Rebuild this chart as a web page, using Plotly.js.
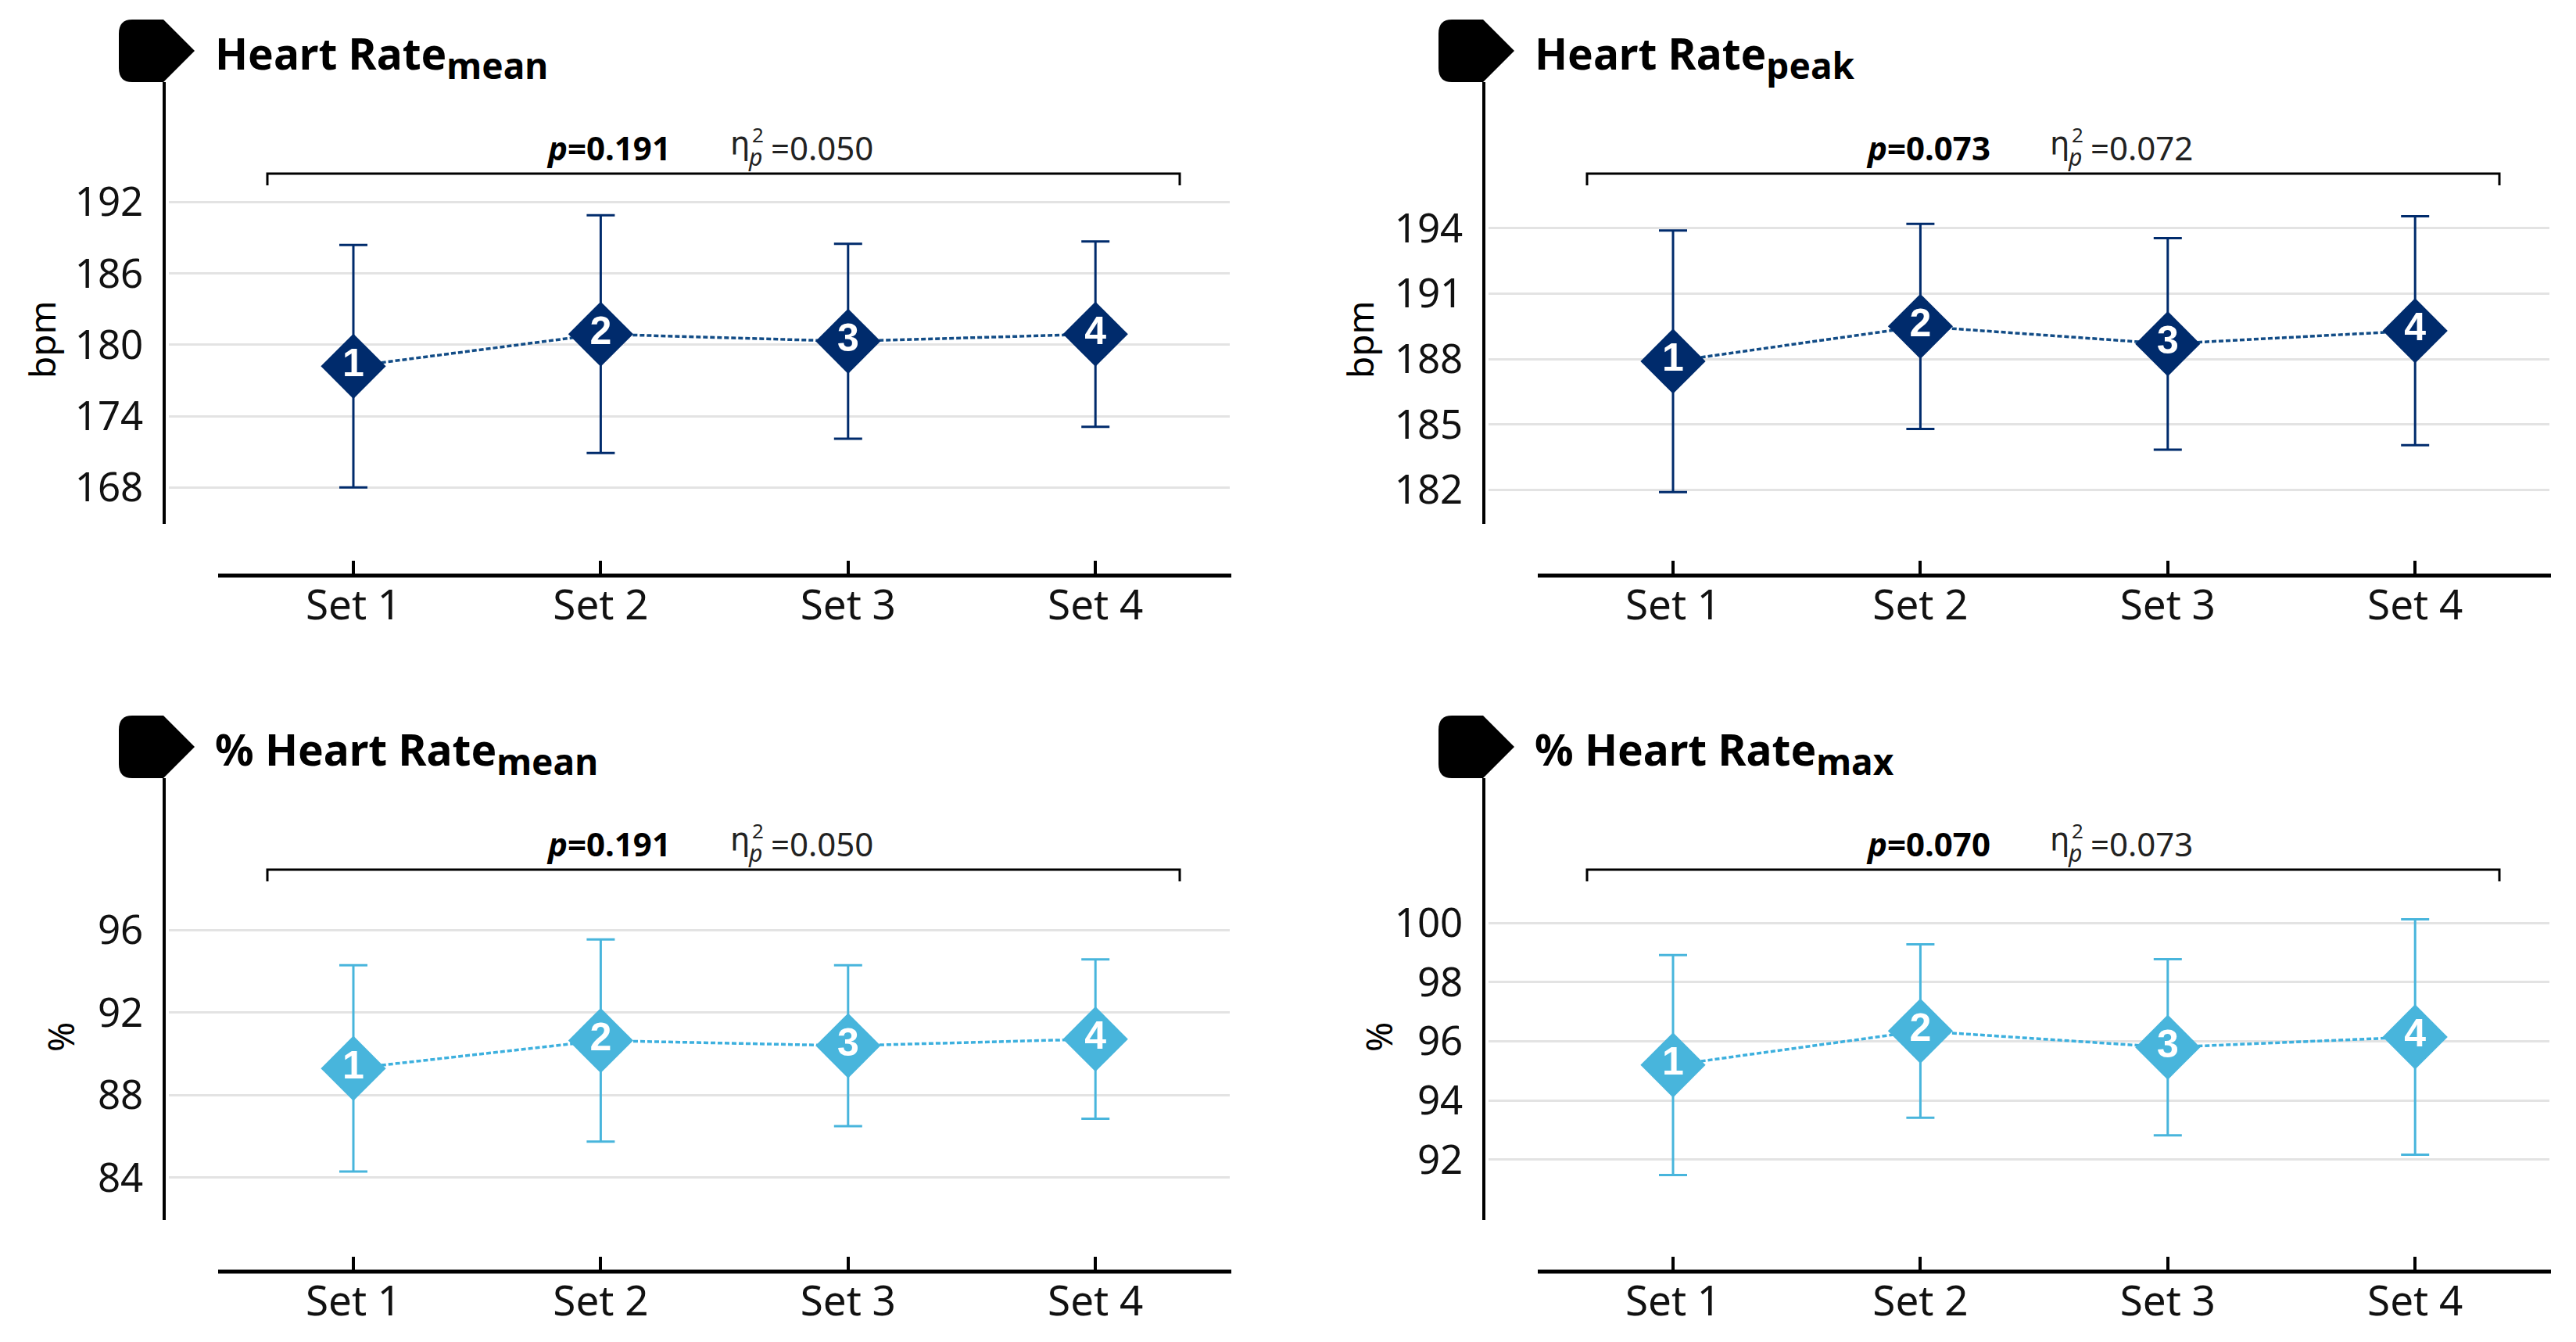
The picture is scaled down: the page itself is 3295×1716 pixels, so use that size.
<!DOCTYPE html>
<html><head><meta charset="utf-8">
<script src="https://cdn.plot.ly/plotly-3.0.1.min.js"></script>
<style>html,body{margin:0;padding:0;background:#fff}</style>
</head><body><div id="chart" style="width:3295px;height:1716px"></div>
<script>
// ---------------- data ----------------
const categories = ['Set 1', 'Set 2', 'Set 3', 'Set 4'];
const markerLabels = ['1', '2', '3', '4'];

const hrMeanValues = [178.2, 180.9, 180.3, 180.9];
const hrMeanSD = [10.2, 10.0, 8.2, 7.8];

const hrPeakValues = [187.9, 189.5, 188.7, 189.3];
const hrPeakSD = [6.0, 4.7, 4.85, 5.25];

const pctHrMeanValues = [89.3, 90.65, 90.4, 90.72];
const pctHrMeanSD = [5.0, 4.9, 3.9, 3.86];

const pctHrMaxValues = [95.2, 96.35, 95.8, 96.15];
const pctHrMaxSD = [3.72, 2.93, 2.98, 3.98];

const hrMeanTicks = [168, 174, 180, 186, 192];
const hrPeakTicks = [182, 185, 188, 191, 194];
const pctHrMeanTicks = [84, 88, 92, 96];
const pctHrMaxTicks = [92, 94, 96, 98, 100];

const panelTitles = ['Heart Rate', 'Heart Rate', '% Heart Rate', '% Heart Rate'];
const panelSubs = ['mean', 'peak', 'mean', 'max'];
const unitLabels = ['bpm', 'bpm', '%', '%'];
const pValues = ['0.191', '0.073', '0.191', '0.070'];
const etaValues = ['0.050', '0.072', '0.050', '0.073'];

// ---------------- layout helpers ----------------
const W = 3295, H = 1716;
const X = v => v / W;
const Y = v => 1 - v / H;

const NAVY = '#002B6C', NAVY_LINE = '#124C86';
const SKY = '#48B5DC', SKY_LINE = '#3DB0DE';
const FONT = 'Noto Sans';

const panels = [
  {vals: hrMeanValues, sd: hrMeanSD, ticks: hrMeanTicks, range: [164.93, 202.1], dx: 0, dy: 0, color: NAVY, lcolor: NAVY_LINE},
  {vals: hrPeakValues, sd: hrPeakSD, ticks: hrPeakTicks, range: [180.44, 200.70], dx: 1688, dy: 0, color: NAVY, lcolor: NAVY_LINE},
  {vals: pctHrMeanValues, sd: pctHrMeanSD, ticks: pctHrMeanTicks, range: [81.95, 103.37], dx: 0, dy: 890, color: SKY, lcolor: SKY_LINE},
  {vals: pctHrMaxValues, sd: pctHrMaxSD, ticks: pctHrMaxTicks, range: [89.96, 104.9], dx: 1688, dy: 890, color: SKY, lcolor: SKY_LINE}
];

// base geometry (pixels) of the top-left panel
const G = {
  axisX: 209.5, yTop: 105, yBot: 670,
  gridL: 216, gridR: 1573,
  xAxisY: 736, xLineL: 279, xLineR: 1575,
  set1X: 452, step: 316.4
};

const traces = [];
const layout = {
  width: W, height: H,
  margin: {l: 0, r: 0, t: 0, b: 0},
  paper_bgcolor: '#fff', plot_bgcolor: 'rgba(0,0,0,0)',
  showlegend: false,
  font: {family: FONT, color: '#111'},
  shapes: [], annotations: []
};

panels.forEach((p, i) => {
  const n = i + 1;
  const xa = 'xaxis' + (n === 1 ? '' : n), ya = 'yaxis' + (n === 1 ? '' : n);
  const xr = 'x' + (n === 1 ? '' : n), yr = 'y' + (n === 1 ? '' : n);
  const dx = p.dx, dy = p.dy;

  traces.push({
    type: 'scatter', mode: 'lines+markers+text',
    x: categories, y: p.vals, xaxis: xr, yaxis: yr,
    text: markerLabels, textposition: 'middle center',
    textfont: {family: 'Liberation Sans', size: 50, color: '#fff', weight: 'bold'},
    line: {color: p.lcolor, width: 3.5, dash: '6px,3px'},
    marker: {symbol: 'diamond', size: 64, color: p.color, line: {width: 0}},
    error_y: {type: 'data', array: p.sd, visible: true, color: p.color, thickness: 3, width: 18},
    cliponaxis: false, hoverinfo: 'skip'
  });

  layout[xa] = {
    type: 'category',
    range: [(G.gridL - G.set1X) / G.step, (G.gridR - G.set1X) / G.step],
    domain: [X(G.gridL + dx), X(G.gridR + dx)],
    anchor: 'free', position: Y(G.xAxisY + dy),
    showgrid: false, zeroline: false, showline: false,
    ticks: 'inside', ticklen: 19, tickwidth: 4, tickcolor: '#000',
    tickfont: {family: FONT, size: 53, color: '#111'},
    ticklabelstandoff: 2, fixedrange: true
  };
  layout[ya] = {
    range: p.range, domain: [Y(G.yBot + dy), Y(G.yTop + dy)],
    anchor: 'free', position: X(G.axisX + dx),
    tickvals: p.ticks, ticks: 'outside', ticklen: 14, tickcolor: 'rgba(0,0,0,0)',
    tickfont: {family: FONT, size: 51, color: '#111'},
    showline: true, linecolor: '#000', linewidth: 4,
    showgrid: true, gridcolor: '#e3e3e3', gridwidth: 3,
    zeroline: false, fixedrange: true
  };

  // x axis base line
  layout.shapes.push({type: 'line', xref: 'paper', yref: 'paper',
    x0: X(G.xLineL + dx), x1: X(G.xLineR + dx), y0: Y(G.xAxisY + dy), y1: Y(G.xAxisY + dy),
    line: {color: '#000', width: 5}});

  // flag
  const fx = v => X(v + dx).toFixed(6), fy = v => Y(v + dy).toFixed(6);
  layout.shapes.push({type: 'path', xref: 'paper', yref: 'paper',
    path: `M ${fx(169)},${fy(25)} L ${fx(209)},${fy(25)} L ${fx(249)},${fy(65)} L ${fx(209)},${fy(105)} L ${fx(169)},${fy(105)} Q ${fx(152)},${fy(105)} ${fx(152)},${fy(87)} L ${fx(152)},${fy(43)} Q ${fx(152)},${fy(25)} ${fx(169)},${fy(25)} Z`,
    fillcolor: '#000', line: {width: 0}});

  // bracket
  layout.shapes.push({type: 'path', xref: 'paper', yref: 'paper',
    path: `M ${fx(342)},${fy(237)} L ${fx(342)},${fy(222)} L ${fx(1509)},${fy(222)} L ${fx(1509)},${fy(237)}`,
    line: {color: '#000', width: 3}});

  // title with enlarged subscript
  layout.annotations.push({xref: 'paper', yref: 'paper', x: X(273 + dx), y: Y(28 + dy),
    xanchor: 'left', yanchor: 'top', showarrow: false,
    text: '<b>' + panelTitles[i] + '<sub><span style="font-size:46px">' + panelSubs[i] + '</span></sub></b>',
    font: {family: FONT, size: 55, color: '#000'}});

  // unit label
  layout.annotations.push({xref: 'paper', yref: 'paper', x: X((i % 2 === 0 ? 53 : 51) + dx + (i >= 2 ? 24 : 0)),
    y: Y((i >= 2 ? 436 : 434) + dy), xanchor: 'center', yanchor: 'middle', textangle: -90, showarrow: false,
    text: unitLabels[i], font: {family: FONT, size: 46, color: '#000'}});

  // p value
  layout.annotations.push({xref: 'paper', yref: 'paper', x: X(697 + dx), y: Y(158 + dy),
    xanchor: 'left', yanchor: 'top', showarrow: false,
    text: '<b><i>p</i>=' + pValues[i] + '</b>',
    font: {family: FONT, size: 42, color: '#000'}});

  // eta squared partial
  layout.annotations.push({xref: 'paper', yref: 'paper', x: X(932 + dx), y: Y(158 + dy),
    xanchor: 'left', yanchor: 'top', showarrow: false, text: 'η',
    font: {family: 'DejaVu Sans', size: 40, color: '#222'}});
  layout.annotations.push({xref: 'paper', yref: 'paper', x: X(960 + dx), y: Y(152 + dy),
    xanchor: 'left', yanchor: 'top', showarrow: false, text: '2',
    font: {family: FONT, size: 26, color: '#222'}});
  layout.annotations.push({xref: 'paper', yref: 'paper', x: X(955 + dx), y: Y(178 + dy),
    xanchor: 'left', yanchor: 'top', showarrow: false, text: '<i>p</i>',
    font: {family: FONT, size: 30, color: '#222'}});
  layout.annotations.push({xref: 'paper', yref: 'paper', x: X(984 + dx), y: Y(158 + dy),
    xanchor: 'left', yanchor: 'top', showarrow: false, text: '=' + etaValues[i],
    font: {family: FONT, size: 42, color: '#222'}});
});

Plotly.newPlot('chart', traces, layout, {staticPlot: true, displayModeBar: false});
</script>
</body></html>
